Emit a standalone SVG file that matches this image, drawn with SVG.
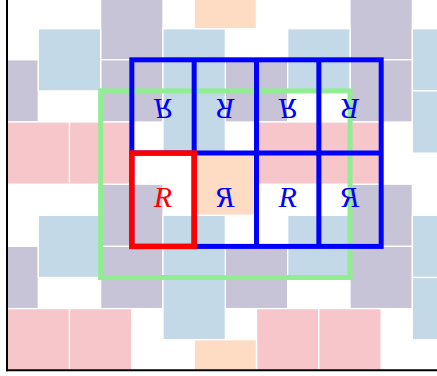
<svg xmlns="http://www.w3.org/2000/svg" width="437" height="376" viewBox="0 0 437 376">
<style>
.t{stroke:#ffffff;stroke-width:1.3}
.P{fill:#c8c4d8}
.B{fill:#c3d9e8}
.K{fill:#f6c6cb}
.O{fill:#fedcc3}
.g{font-family:"Liberation Serif","Times New Roman",serif;font-style:italic;font-size:30px;text-anchor:middle}
.blue{fill:#0000ff}
.red{fill:#ff0000}
</style>
<defs>
<clipPath id="area"><rect x="7" y="0" width="430" height="370.5"/></clipPath>
</defs>
<g id="tiles" clip-path="url(#area)">
<rect class="t P" x="100.66" y="-2.4" width="62.34" height="62.2"/>
<rect class="t P" x="100.66" y="59.8" width="62.34" height="62.2"/>
<rect class="t P" x="-24.02" y="59.8" width="62.34" height="62.2"/>
<rect class="t P" x="350.02" y="-2.4" width="62.34" height="62.2"/>
<rect class="t P" x="350.02" y="59.8" width="62.34" height="62.2"/>
<rect class="t P" x="225.34" y="59.8" width="62.34" height="62.2"/>
<rect class="t P" x="100.66" y="184.2" width="62.34" height="62.2"/>
<rect class="t P" x="100.66" y="246.4" width="62.34" height="62.2"/>
<rect class="t P" x="-24.02" y="246.4" width="62.34" height="62.2"/>
<rect class="t P" x="225.34" y="246.4" width="62.34" height="62.2"/>
<rect class="t P" x="350.02" y="184.2" width="62.34" height="62.2"/>
<rect class="t P" x="350.02" y="246.4" width="62.34" height="62.2"/>
<rect class="t B" x="38.32" y="28.7" width="62.34" height="62.2"/>
<rect class="t B" x="163" y="28.7" width="62.34" height="62.2"/>
<rect class="t B" x="163" y="90.9" width="62.34" height="62.2"/>
<rect class="t B" x="287.68" y="28.7" width="62.34" height="62.2"/>
<rect class="t B" x="412.36" y="28.7" width="62.34" height="62.2"/>
<rect class="t B" x="412.36" y="90.9" width="62.34" height="62.2"/>
<rect class="t B" x="38.32" y="215.3" width="62.34" height="62.2"/>
<rect class="t B" x="163" y="215.3" width="62.34" height="62.2"/>
<rect class="t B" x="163" y="277.5" width="62.34" height="62.2"/>
<rect class="t B" x="287.68" y="215.3" width="62.34" height="62.2"/>
<rect class="t B" x="412.36" y="215.3" width="62.34" height="62.2"/>
<rect class="t B" x="412.36" y="277.5" width="62.34" height="62.2"/>
<rect class="t K" x="7.15" y="122" width="62.34" height="62.2"/>
<rect class="t K" x="69.49" y="122" width="62.34" height="62.2"/>
<rect class="t K" x="256.51" y="122" width="62.34" height="62.2"/>
<rect class="t K" x="318.85" y="122" width="62.34" height="62.2"/>
<rect class="t K" x="7.15" y="308.6" width="62.34" height="62.2"/>
<rect class="t K" x="69.49" y="308.6" width="62.34" height="62.2"/>
<rect class="t K" x="256.51" y="308.6" width="62.34" height="62.2"/>
<rect class="t K" x="318.85" y="308.6" width="62.34" height="62.2"/>
<rect class="t O" x="194.17" y="-33.5" width="62.34" height="62.2"/>
<rect class="t O" x="194.17" y="153.1" width="62.34" height="62.2"/>
<rect class="t O" x="194.17" y="339.7" width="62.34" height="62.2"/>
</g>
<g id="axes" stroke="#000000" stroke-width="2" fill="none">
<line x1="7" y1="0" x2="7" y2="371.3"/>
<line x1="6" y1="370.3" x2="437" y2="370.3"/>
</g>
<g id="green-cell">
<rect x="100.66" y="90.9" width="249.36" height="186.6" fill="none" stroke="#90ee90" stroke-width="5"/>
</g>
<g id="blue-grid" fill="none" stroke="#0000ff" stroke-width="5">
<rect x="131.83" y="59.8" width="249.36" height="186.6"/>
<line x1="194.17" y1="59.8" x2="194.17" y2="246.4"/>
<line x1="256.51" y1="59.8" x2="256.51" y2="246.4"/>
<line x1="318.85" y1="59.8" x2="318.85" y2="246.4"/>
<line x1="131.83" y1="153.1" x2="381.19" y2="153.1"/>
</g>
<g id="red-cell">
<rect x="131.83" y="153.1" width="62.34" height="93.3" fill="none" stroke="#ff0000" stroke-width="5.5"/>
</g>
<g id="glyphs">
<text class="g red" transform="translate(163,196.7)" x="0" y="10">R</text>
<text class="g blue" transform="translate(225.34,196.7) scale(-1,1)" x="0" y="10">R</text>
<text class="g blue" transform="translate(287.68,196.7)" x="0" y="10">R</text>
<text class="g blue" transform="translate(350.02,196.7) scale(-1,1)" x="0" y="10">R</text>
<text class="g blue" transform="translate(163,109) scale(1,-1)" x="0" y="10">R</text>
<text class="g blue" transform="translate(225.34,109) scale(-1,-1)" x="0" y="10">R</text>
<text class="g blue" transform="translate(287.68,109) scale(1,-1)" x="0" y="10">R</text>
<text class="g blue" transform="translate(350.02,109) scale(-1,-1)" x="0" y="10">R</text>
</g>
</svg>
